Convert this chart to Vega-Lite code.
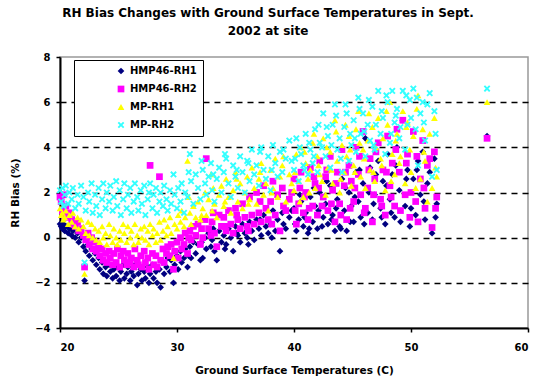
{
  "$schema": "https://vega.github.io/schema/vega-lite/v6.json",
  "width": 468,
  "height": 271,
  "autosize": {"type": "none"},
  "padding": {"left": 60, "top": 57, "right": 10, "bottom": 53},
  "background": "white",
  "title": {
    "text": ["RH Bias Changes with Ground Surface Temperatures in Sept.", "2002 at site"],
    "font": "DejaVu Sans",
    "fontSize": 12,
    "fontWeight": "bold",
    "color": "black",
    "anchor": "middle",
    "offset": 14,
    "lineHeight": 18,
    "dx": -26
  },
  "config": {
    "view": {"stroke": "#999999", "strokeWidth": 1.5},
    "axis": {
      "labelFont": "DejaVu Sans",
      "labelFontSize": 10,
      "labelFontWeight": "bold",
      "labelColor": "black",
      "titleFont": "DejaVu Sans",
      "titleFontSize": 10.5,
      "titleFontWeight": "bold",
      "titleColor": "black",
      "domainColor": "black",
      "domainWidth": 2,
      "tickColor": "black",
      "tickWidth": 1.5
    },
    "legend": {
      "orient": "none",
      "legendX": 14,
      "legendY": 3,
      "fillColor": "white",
      "strokeColor": "black",
      "padding": 6,
      "symbolOffset": 36,
      "rowPadding": 8,
      "labelFont": "DejaVu Sans",
      "labelFontSize": 10,
      "labelFontWeight": "bold",
      "labelColor": "black",
      "symbolSize": 45,
      "symbolStrokeWidth": 0
    }
  },
  "data": {
    "values": [
      {"temp": 20.0, "HMP46-RH1": 0.6, "HMP46-RH2": 1.8, "MP-RH1": 1.3, "MP-RH2": 2.1},
      {"temp": 20.1, "HMP46-RH1": 0.5, "HMP46-RH2": 1.6, "MP-RH1": 1.0, "MP-RH2": 1.6},
      {"temp": 20.2, "HMP46-RH1": 0.4, "HMP46-RH2": 1.2, "MP-RH1": 1.1, "MP-RH2": 2.2},
      {"temp": 20.3, "HMP46-RH1": 0.6, "HMP46-RH2": 1.9, "MP-RH1": 0.8, "MP-RH2": 1.4},
      {"temp": 20.4, "HMP46-RH1": 0.3, "HMP46-RH2": 1.0, "MP-RH1": 0.9, "MP-RH2": 1.9},
      {"temp": 20.5, "HMP46-RH1": 0.5, "HMP46-RH2": 1.4, "MP-RH1": 1.2, "MP-RH2": 2.3},
      {"temp": 20.7, "HMP46-RH1": 0.2, "HMP46-RH2": 0.9, "MP-RH1": 0.6, "MP-RH2": 1.5},
      {"temp": 20.8, "HMP46-RH1": 0.4, "HMP46-RH2": 1.1, "MP-RH1": 1.0, "MP-RH2": 2.0},
      {"temp": 21.0, "HMP46-RH1": 0.1, "HMP46-RH2": 0.8, "MP-RH1": 0.7, "MP-RH2": 1.7},
      {"temp": 21.1, "HMP46-RH1": 0.3, "HMP46-RH2": 0.6, "MP-RH1": 1.1, "MP-RH2": 2.2},
      {"temp": 21.3, "HMP46-RH1": 0.0, "HMP46-RH2": 0.5, "MP-RH1": 0.5, "MP-RH2": 1.3},
      {"temp": 21.5, "HMP46-RH1": 0.2, "HMP46-RH2": 0.7, "MP-RH1": 0.9, "MP-RH2": 1.9},
      {"temp": 21.6, "HMP46-RH1": -0.2, "HMP46-RH2": 0.3, "MP-RH1": 0.4, "MP-RH2": 1.5},
      {"temp": 21.8, "HMP46-RH1": 0.0, "HMP46-RH2": 0.4, "MP-RH1": 0.8, "MP-RH2": 2.3},
      {"temp": 22.0, "HMP46-RH1": -0.4, "HMP46-RH2": 0.1, "MP-RH1": 0.5, "MP-RH2": 1.8},
      {"temp": 22.1, "HMP46-RH1": -1.9, "HMP46-RH2": -1.3, "MP-RH1": -1.6, "MP-RH2": -1.1},
      {"temp": 22.2, "HMP46-RH1": -0.6, "HMP46-RH2": -0.1, "MP-RH1": 0.2, "MP-RH2": 1.2},
      {"temp": 22.4, "HMP46-RH1": -0.3, "HMP46-RH2": 0.2, "MP-RH1": 0.7, "MP-RH2": 2.0},
      {"temp": 22.5, "HMP46-RH1": -0.8, "HMP46-RH2": -0.3, "MP-RH1": 0.1, "MP-RH2": 1.6},
      {"temp": 22.7, "HMP46-RH1": -0.5, "HMP46-RH2": 0.0, "MP-RH1": 0.6, "MP-RH2": 2.4},
      {"temp": 22.8, "HMP46-RH1": -1.0, "HMP46-RH2": -0.5, "MP-RH1": 0.0, "MP-RH2": 1.1},
      {"temp": 23.0, "HMP46-RH1": -0.7, "HMP46-RH2": -0.2, "MP-RH1": 0.4, "MP-RH2": 1.9},
      {"temp": 23.1, "HMP46-RH1": -1.2, "HMP46-RH2": -0.6, "MP-RH1": -0.1, "MP-RH2": 1.4},
      {"temp": 23.3, "HMP46-RH1": -0.9, "HMP46-RH2": -0.4, "MP-RH1": 0.3, "MP-RH2": 2.2},
      {"temp": 23.4, "HMP46-RH1": -1.4, "HMP46-RH2": -0.8, "MP-RH1": -0.2, "MP-RH2": 1.0},
      {"temp": 23.6, "HMP46-RH1": -1.1, "HMP46-RH2": -0.5, "MP-RH1": 0.5, "MP-RH2": 1.7},
      {"temp": 23.7, "HMP46-RH1": -1.6, "HMP46-RH2": -1.0, "MP-RH1": 0.0, "MP-RH2": 2.4},
      {"temp": 23.9, "HMP46-RH1": -1.3, "HMP46-RH2": -0.7, "MP-RH1": 0.2, "MP-RH2": 1.3},
      {"temp": 24.0, "HMP46-RH1": -1.7, "HMP46-RH2": -1.1, "MP-RH1": -0.3, "MP-RH2": 2.0},
      {"temp": 24.2, "HMP46-RH1": -1.2, "HMP46-RH2": -0.6, "MP-RH1": 0.6, "MP-RH2": 1.6},
      {"temp": 24.3, "HMP46-RH1": -1.5, "HMP46-RH2": -0.9, "MP-RH1": 0.1, "MP-RH2": 2.3},
      {"temp": 24.5, "HMP46-RH1": -1.8, "HMP46-RH2": -1.2, "MP-RH1": -0.2, "MP-RH2": 1.2},
      {"temp": 24.6, "HMP46-RH1": -1.4, "HMP46-RH2": -0.7, "MP-RH1": 0.4, "MP-RH2": 1.8},
      {"temp": 24.8, "HMP46-RH1": -1.7, "HMP46-RH2": -1.1, "MP-RH1": 0.0, "MP-RH2": 2.5},
      {"temp": 24.9, "HMP46-RH1": -1.3, "HMP46-RH2": -0.5, "MP-RH1": -0.3, "MP-RH2": 1.4},
      {"temp": 25.1, "HMP46-RH1": -1.9, "HMP46-RH2": -1.3, "MP-RH1": 0.3, "MP-RH2": 2.1},
      {"temp": 25.2, "HMP46-RH1": -1.5, "HMP46-RH2": -0.8, "MP-RH1": -0.1, "MP-RH2": 1.0},
      {"temp": 25.4, "HMP46-RH1": -1.2, "HMP46-RH2": -0.6, "MP-RH1": 0.6, "MP-RH2": 1.7},
      {"temp": 25.5, "HMP46-RH1": -1.8, "HMP46-RH2": -1.0, "MP-RH1": 0.2, "MP-RH2": 2.4},
      {"temp": 25.7, "HMP46-RH1": -1.6, "HMP46-RH2": -1.2, "MP-RH1": -0.2, "MP-RH2": 1.3},
      {"temp": 25.8, "HMP46-RH1": -1.3, "HMP46-RH2": -0.7, "MP-RH1": 0.5, "MP-RH2": 1.9},
      {"temp": 26.0, "HMP46-RH1": -1.9, "HMP46-RH2": -1.1, "MP-RH1": 0.0, "MP-RH2": 2.2},
      {"temp": 26.1, "HMP46-RH1": -1.5, "HMP46-RH2": -0.9, "MP-RH1": 0.3, "MP-RH2": 1.1},
      {"temp": 26.3, "HMP46-RH1": -1.7, "HMP46-RH2": -1.3, "MP-RH1": -0.3, "MP-RH2": 1.6},
      {"temp": 26.4, "HMP46-RH1": -1.2, "HMP46-RH2": -0.5, "MP-RH1": 0.6, "MP-RH2": 2.4},
      {"temp": 26.6, "HMP46-RH1": -2.1, "HMP46-RH2": -1.0, "MP-RH1": 0.1, "MP-RH2": 1.8},
      {"temp": 26.7, "HMP46-RH1": -1.6, "HMP46-RH2": -1.2, "MP-RH1": -0.2, "MP-RH2": 1.2},
      {"temp": 26.9, "HMP46-RH1": -1.4, "HMP46-RH2": -0.8, "MP-RH1": 0.4, "MP-RH2": 2.1},
      {"temp": 27.0, "HMP46-RH1": -1.9, "HMP46-RH2": -1.3, "MP-RH1": 0.0, "MP-RH2": 1.5},
      {"temp": 27.2, "HMP46-RH1": -1.5, "HMP46-RH2": -0.6, "MP-RH1": 0.5, "MP-RH2": 2.3},
      {"temp": 27.3, "HMP46-RH1": -1.8, "HMP46-RH2": -1.1, "MP-RH1": -0.1, "MP-RH2": 1.0},
      {"temp": 27.5, "HMP46-RH1": -1.3, "HMP46-RH2": -0.9, "MP-RH1": 0.3, "MP-RH2": 1.7},
      {"temp": 27.6, "HMP46-RH1": -2.0, "HMP46-RH2": -1.4, "MP-RH1": -0.3, "MP-RH2": 2.0},
      {"temp": 27.7, "HMP46-RH1": -1.6, "HMP46-RH2": 3.2, "MP-RH1": 0.6, "MP-RH2": 2.4},
      {"temp": 27.9, "HMP46-RH1": -1.2, "HMP46-RH2": -0.7, "MP-RH1": 0.1, "MP-RH2": 1.3},
      {"temp": 28.0, "HMP46-RH1": -1.8, "HMP46-RH2": -1.2, "MP-RH1": 0.4, "MP-RH2": 1.9},
      {"temp": 28.2, "HMP46-RH1": -1.5, "HMP46-RH2": -0.8, "MP-RH1": -0.2, "MP-RH2": 2.2},
      {"temp": 28.3, "HMP46-RH1": -2.0, "HMP46-RH2": -1.3, "MP-RH1": 0.2, "MP-RH2": 1.1},
      {"temp": 28.5, "HMP46-RH1": -1.4, "HMP46-RH2": 2.7, "MP-RH1": 0.7, "MP-RH2": 1.6},
      {"temp": 28.6, "HMP46-RH1": -2.2, "HMP46-RH2": -1.0, "MP-RH1": -0.1, "MP-RH2": 2.0},
      {"temp": 28.8, "HMP46-RH1": -1.1, "HMP46-RH2": -0.5, "MP-RH1": 0.3, "MP-RH2": 1.4},
      {"temp": 28.9, "HMP46-RH1": -1.6, "HMP46-RH2": -1.1, "MP-RH1": 0.8, "MP-RH2": 2.3},
      {"temp": 29.1, "HMP46-RH1": -1.3, "HMP46-RH2": -0.7, "MP-RH1": 0.1, "MP-RH2": 1.7},
      {"temp": 29.2, "HMP46-RH1": -0.9, "HMP46-RH2": -0.4, "MP-RH1": 0.5, "MP-RH2": 1.2},
      {"temp": 29.4, "HMP46-RH1": -1.5, "HMP46-RH2": -0.8, "MP-RH1": 0.9, "MP-RH2": 2.1},
      {"temp": 29.5, "HMP46-RH1": -1.0, "HMP46-RH2": -0.3, "MP-RH1": 0.2, "MP-RH2": 1.5},
      {"temp": 29.7, "HMP46-RH1": -2.0, "HMP46-RH2": -1.4, "MP-RH1": -0.9, "MP-RH2": 2.8},
      {"temp": 29.8, "HMP46-RH1": -1.2, "HMP46-RH2": -0.6, "MP-RH1": 0.6, "MP-RH2": 1.9},
      {"temp": 30.0, "HMP46-RH1": -0.8, "HMP46-RH2": -0.2, "MP-RH1": 0.4, "MP-RH2": 1.3},
      {"temp": 30.1, "HMP46-RH1": -1.4, "HMP46-RH2": -0.9, "MP-RH1": 1.0, "MP-RH2": 2.2},
      {"temp": 30.3, "HMP46-RH1": -0.6, "HMP46-RH2": 0.0, "MP-RH1": 0.7, "MP-RH2": 1.6},
      {"temp": 30.4, "HMP46-RH1": -1.1, "HMP46-RH2": -0.5, "MP-RH1": 1.2, "MP-RH2": 2.4},
      {"temp": 30.6, "HMP46-RH1": -0.9, "HMP46-RH2": -0.3, "MP-RH1": 0.5, "MP-RH2": 1.1},
      {"temp": 30.7, "HMP46-RH1": -0.5, "HMP46-RH2": 0.2, "MP-RH1": 0.9, "MP-RH2": 2.0},
      {"temp": 30.9, "HMP46-RH1": -1.3, "HMP46-RH2": -0.7, "MP-RH1": 3.4, "MP-RH2": 1.8},
      {"temp": 31.0, "HMP46-RH1": -0.8, "HMP46-RH2": 0.0, "MP-RH1": 1.8, "MP-RH2": 2.9},
      {"temp": 31.1, "HMP46-RH1": -0.4, "HMP46-RH2": 0.3, "MP-RH1": 1.1, "MP-RH2": 3.7},
      {"temp": 31.2, "HMP46-RH1": -0.9, "HMP46-RH2": -0.1, "MP-RH1": 0.6, "MP-RH2": 2.5},
      {"temp": 31.4, "HMP46-RH1": -0.2, "HMP46-RH2": 0.5, "MP-RH1": 1.4, "MP-RH2": 1.5},
      {"temp": 31.6, "HMP46-RH1": -0.7, "HMP46-RH2": 0.1, "MP-RH1": 0.9, "MP-RH2": 2.8},
      {"temp": 31.8, "HMP46-RH1": -0.3, "HMP46-RH2": 0.6, "MP-RH1": 1.6, "MP-RH2": 2.2},
      {"temp": 32.0, "HMP46-RH1": -1.0, "HMP46-RH2": -0.3, "MP-RH1": 0.8, "MP-RH2": 1.7},
      {"temp": 32.1, "HMP46-RH1": -0.2, "HMP46-RH2": 0.4, "MP-RH1": 1.0, "MP-RH2": 3.4},
      {"temp": 32.2, "HMP46-RH1": -0.9, "HMP46-RH2": 0.0, "MP-RH1": 1.3, "MP-RH2": 3.0},
      {"temp": 32.4, "HMP46-RH1": 0.0, "HMP46-RH2": 0.8, "MP-RH1": 2.0, "MP-RH2": 2.4},
      {"temp": 32.5, "HMP46-RH1": -0.5, "HMP46-RH2": 3.5, "MP-RH1": 1.0, "MP-RH2": 1.9},
      {"temp": 32.7, "HMP46-RH1": 0.2, "HMP46-RH2": 0.4, "MP-RH1": 1.7, "MP-RH2": 2.7},
      {"temp": 32.9, "HMP46-RH1": -0.4, "HMP46-RH2": 0.1, "MP-RH1": 2.8, "MP-RH2": 3.3},
      {"temp": 33.0, "HMP46-RH1": -0.1, "HMP46-RH2": 0.7, "MP-RH1": 1.2, "MP-RH2": 2.1},
      {"temp": 33.1, "HMP46-RH1": 0.4, "HMP46-RH2": 1.1, "MP-RH1": 2.2, "MP-RH2": 2.8},
      {"temp": 33.2, "HMP46-RH1": -0.6, "HMP46-RH2": 0.2, "MP-RH1": 1.5, "MP-RH2": 1.6},
      {"temp": 33.4, "HMP46-RH1": -1.0, "HMP46-RH2": -0.4, "MP-RH1": 0.9, "MP-RH2": 2.6},
      {"temp": 33.6, "HMP46-RH1": 0.3, "HMP46-RH2": 1.0, "MP-RH1": 1.9, "MP-RH2": 3.1},
      {"temp": 33.8, "HMP46-RH1": -0.2, "HMP46-RH2": 0.5, "MP-RH1": 2.3, "MP-RH2": 2.0},
      {"temp": 34.0, "HMP46-RH1": 0.1, "HMP46-RH2": 0.9, "MP-RH1": 1.4, "MP-RH2": 2.9},
      {"temp": 34.1, "HMP46-RH1": -0.5, "HMP46-RH2": 0.5, "MP-RH1": 1.6, "MP-RH2": 3.7},
      {"temp": 34.2, "HMP46-RH1": -0.3, "HMP46-RH2": 0.3, "MP-RH1": 2.6, "MP-RH2": 3.5},
      {"temp": 34.4, "HMP46-RH1": 0.4, "HMP46-RH2": 1.2, "MP-RH1": 1.8, "MP-RH2": 2.4},
      {"temp": 34.6, "HMP46-RH1": 0.0, "HMP46-RH2": 0.6, "MP-RH1": 1.1, "MP-RH2": 1.8},
      {"temp": 34.8, "HMP46-RH1": -0.6, "HMP46-RH2": 0.2, "MP-RH1": 2.1, "MP-RH2": 3.2},
      {"temp": 35.0, "HMP46-RH1": 0.5, "HMP46-RH2": 1.3, "MP-RH1": 2.9, "MP-RH2": 2.7},
      {"temp": 35.1, "HMP46-RH1": 0.2, "HMP46-RH2": 1.0, "MP-RH1": 2.6, "MP-RH2": 3.0},
      {"temp": 35.2, "HMP46-RH1": 0.1, "HMP46-RH2": 0.8, "MP-RH1": 1.6, "MP-RH2": 2.2},
      {"temp": 35.4, "HMP46-RH1": -0.2, "HMP46-RH2": 0.4, "MP-RH1": 2.4, "MP-RH2": 3.6},
      {"temp": 35.6, "HMP46-RH1": 0.6, "HMP46-RH2": 1.5, "MP-RH1": 1.3, "MP-RH2": 2.9},
      {"temp": 35.8, "HMP46-RH1": 0.2, "HMP46-RH2": 0.9, "MP-RH1": 2.0, "MP-RH2": 2.0},
      {"temp": 36.0, "HMP46-RH1": 0.0, "HMP46-RH2": 0.5, "MP-RH1": 2.7, "MP-RH2": 3.4},
      {"temp": 36.1, "HMP46-RH1": -0.3, "HMP46-RH2": 0.3, "MP-RH1": 1.5, "MP-RH2": 3.3},
      {"temp": 36.2, "HMP46-RH1": 0.7, "HMP46-RH2": 1.8, "MP-RH1": 1.7, "MP-RH2": 2.5},
      {"temp": 36.4, "HMP46-RH1": 0.3, "HMP46-RH2": 1.0, "MP-RH1": 3.1, "MP-RH2": 3.9},
      {"temp": 36.6, "HMP46-RH1": -0.1, "HMP46-RH2": 0.6, "MP-RH1": 2.2, "MP-RH2": 2.8},
      {"temp": 36.8, "HMP46-RH1": 0.8, "HMP46-RH2": 2.0, "MP-RH1": 1.5, "MP-RH2": 3.2},
      {"temp": 37.0, "HMP46-RH1": 0.4, "HMP46-RH2": 1.1, "MP-RH1": 2.6, "MP-RH2": 2.3},
      {"temp": 37.1, "HMP46-RH1": 0.8, "HMP46-RH2": 1.6, "MP-RH1": 2.9, "MP-RH2": 3.8},
      {"temp": 37.2, "HMP46-RH1": 0.1, "HMP46-RH2": 0.7, "MP-RH1": 3.3, "MP-RH2": 4.0},
      {"temp": 37.4, "HMP46-RH1": 1.0, "HMP46-RH2": 2.3, "MP-RH1": 1.9, "MP-RH2": 3.0},
      {"temp": 37.6, "HMP46-RH1": 0.5, "HMP46-RH2": 1.3, "MP-RH1": 2.4, "MP-RH2": 2.6},
      {"temp": 37.8, "HMP46-RH1": 0.2, "HMP46-RH2": 0.8, "MP-RH1": 1.2, "MP-RH2": 3.6},
      {"temp": 38.0, "HMP46-RH1": 0.6, "HMP46-RH2": 1.6, "MP-RH1": 3.0, "MP-RH2": 2.1},
      {"temp": 38.1, "HMP46-RH1": 0.0, "HMP46-RH2": 0.6, "MP-RH1": 2.0, "MP-RH2": 3.0},
      {"temp": 38.2, "HMP46-RH1": 1.2, "HMP46-RH2": 2.5, "MP-RH1": 2.2, "MP-RH2": 4.1},
      {"temp": 38.4, "HMP46-RH1": 0.3, "HMP46-RH2": 1.0, "MP-RH1": 3.5, "MP-RH2": 3.3},
      {"temp": 38.6, "HMP46-RH1": 0.8, "HMP46-RH2": 1.9, "MP-RH1": 1.8, "MP-RH2": 2.7},
      {"temp": 38.8, "HMP46-RH1": -0.6, "HMP46-RH2": 0.3, "MP-RH1": 2.7, "MP-RH2": 3.8},
      {"temp": 39.0, "HMP46-RH1": 1.1, "HMP46-RH2": 2.2, "MP-RH1": 3.2, "MP-RH2": 2.9},
      {"temp": 39.1, "HMP46-RH1": 0.6, "HMP46-RH2": 1.4, "MP-RH1": 3.6, "MP-RH2": 3.9},
      {"temp": 39.3, "HMP46-RH1": 0.4, "HMP46-RH2": 1.2, "MP-RH1": 1.6, "MP-RH2": 3.5},
      {"temp": 39.6, "HMP46-RH1": 0.9, "HMP46-RH2": 1.7, "MP-RH1": 2.8, "MP-RH2": 4.3},
      {"temp": 39.8, "HMP46-RH1": 1.2, "HMP46-RH2": 2.0, "MP-RH1": 2.4, "MP-RH2": 3.4},
      {"temp": 40.0, "HMP46-RH1": 1.3, "HMP46-RH2": 2.6, "MP-RH1": 2.1, "MP-RH2": 3.0},
      {"temp": 40.1, "HMP46-RH1": 0.6, "HMP46-RH2": 1.2, "MP-RH1": 2.9, "MP-RH2": 3.5},
      {"temp": 40.2, "HMP46-RH1": 0.3, "HMP46-RH2": 0.6, "MP-RH1": 3.7, "MP-RH2": 4.4},
      {"temp": 40.4, "HMP46-RH1": 0.8, "HMP46-RH2": 1.5, "MP-RH1": 2.5, "MP-RH2": 2.5},
      {"temp": 40.5, "HMP46-RH1": 1.9, "HMP46-RH2": 2.2, "MP-RH1": 1.6, "MP-RH2": 4.0},
      {"temp": 40.6, "HMP46-RH1": 1.6, "HMP46-RH2": 2.9, "MP-RH1": 4.0, "MP-RH2": 3.7},
      {"temp": 40.8, "HMP46-RH1": 0.5, "HMP46-RH2": 1.1, "MP-RH1": 1.8, "MP-RH2": 3.2},
      {"temp": 40.9, "HMP46-RH1": 0.9, "HMP46-RH2": 1.8, "MP-RH1": 3.8, "MP-RH2": 3.0},
      {"temp": 41.0, "HMP46-RH1": 1.1, "HMP46-RH2": 2.0, "MP-RH1": 3.3, "MP-RH2": 4.6},
      {"temp": 41.2, "HMP46-RH1": 0.2, "HMP46-RH2": 0.8, "MP-RH1": 2.6, "MP-RH2": 2.8},
      {"temp": 41.3, "HMP46-RH1": 0.4, "HMP46-RH2": 1.3, "MP-RH1": 2.0, "MP-RH2": 4.2},
      {"temp": 41.4, "HMP46-RH1": 1.8, "HMP46-RH2": 3.1, "MP-RH1": 3.0, "MP-RH2": 3.9},
      {"temp": 41.6, "HMP46-RH1": 0.7, "HMP46-RH2": 1.4, "MP-RH1": 4.2, "MP-RH2": 3.3},
      {"temp": 41.7, "HMP46-RH1": 2.2, "HMP46-RH2": 2.7, "MP-RH1": 4.6, "MP-RH2": 3.6},
      {"temp": 41.8, "HMP46-RH1": 1.4, "HMP46-RH2": 2.4, "MP-RH1": 2.2, "MP-RH2": 4.8},
      {"temp": 42.0, "HMP46-RH1": 0.4, "HMP46-RH2": 1.0, "MP-RH1": 3.6, "MP-RH2": 2.9},
      {"temp": 42.1, "HMP46-RH1": 1.2, "HMP46-RH2": 2.2, "MP-RH1": 3.2, "MP-RH2": 5.0},
      {"temp": 42.2, "HMP46-RH1": 2.0, "HMP46-RH2": 3.4, "MP-RH1": 2.8, "MP-RH2": 4.2},
      {"temp": 42.4, "HMP46-RH1": 0.5, "HMP46-RH2": 1.4, "MP-RH1": 2.5, "MP-RH2": 4.0},
      {"temp": 42.5, "HMP46-RH1": 0.9, "HMP46-RH2": 1.8, "MP-RH1": 4.4, "MP-RH2": 5.5},
      {"temp": 42.7, "HMP46-RH1": 1.5, "HMP46-RH2": 2.7, "MP-RH1": 1.9, "MP-RH2": 3.6},
      {"temp": 42.8, "HMP46-RH1": 2.5, "HMP46-RH2": 3.0, "MP-RH1": 4.0, "MP-RH2": 4.9},
      {"temp": 42.9, "HMP46-RH1": 0.6, "HMP46-RH2": 1.2, "MP-RH1": 3.1, "MP-RH2": 4.5},
      {"temp": 43.1, "HMP46-RH1": 2.3, "HMP46-RH2": 3.6, "MP-RH1": 3.8, "MP-RH2": 3.1},
      {"temp": 43.2, "HMP46-RH1": 0.8, "HMP46-RH2": 1.5, "MP-RH1": 3.0, "MP-RH2": 4.1},
      {"temp": 43.3, "HMP46-RH1": 1.0, "HMP46-RH2": 2.1, "MP-RH1": 2.4, "MP-RH2": 5.0},
      {"temp": 43.5, "HMP46-RH1": 0.3, "HMP46-RH2": 0.7, "MP-RH1": 5.2, "MP-RH2": 5.9},
      {"temp": 43.6, "HMP46-RH1": 1.3, "HMP46-RH2": 2.4, "MP-RH1": 4.7, "MP-RH2": 5.4},
      {"temp": 43.7, "HMP46-RH1": 1.7, "HMP46-RH2": 2.9, "MP-RH1": 3.4, "MP-RH2": 3.9},
      {"temp": 43.9, "HMP46-RH1": 0.5, "HMP46-RH2": 1.5, "MP-RH1": 2.0, "MP-RH2": 4.4},
      {"temp": 44.0, "HMP46-RH1": 0.4, "HMP46-RH2": 1.0, "MP-RH1": 2.6, "MP-RH2": 3.5},
      {"temp": 44.1, "HMP46-RH1": 2.6, "HMP46-RH2": 3.9, "MP-RH1": 4.1, "MP-RH2": 2.9},
      {"temp": 44.3, "HMP46-RH1": 1.2, "HMP46-RH2": 2.3, "MP-RH1": 2.9, "MP-RH2": 4.9},
      {"temp": 44.4, "HMP46-RH1": 2.2, "HMP46-RH2": 2.9, "MP-RH1": 5.0, "MP-RH2": 5.9},
      {"temp": 44.5, "HMP46-RH1": 0.3, "HMP46-RH2": 0.8, "MP-RH1": 3.6, "MP-RH2": 5.5},
      {"temp": 44.7, "HMP46-RH1": 2.0, "HMP46-RH2": 3.2, "MP-RH1": 4.5, "MP-RH2": 3.4},
      {"temp": 44.8, "HMP46-RH1": 0.7, "HMP46-RH2": 1.3, "MP-RH1": 3.9, "MP-RH2": 4.6},
      {"temp": 44.9, "HMP46-RH1": 1.4, "HMP46-RH2": 2.5, "MP-RH1": 2.3, "MP-RH2": 4.1},
      {"temp": 45.1, "HMP46-RH1": 0.7, "HMP46-RH2": 1.6, "MP-RH1": 3.2, "MP-RH2": 5.2},
      {"temp": 45.2, "HMP46-RH1": 1.8, "HMP46-RH2": 2.2, "MP-RH1": 2.9, "MP-RH2": 4.4},
      {"temp": 45.3, "HMP46-RH1": 2.9, "HMP46-RH2": 4.0, "MP-RH1": 4.8, "MP-RH2": 3.8},
      {"temp": 45.5, "HMP46-RH1": 1.6, "HMP46-RH2": 2.8, "MP-RH1": 5.6, "MP-RH2": 6.2},
      {"temp": 45.6, "HMP46-RH1": 3.0, "HMP46-RH2": 3.6, "MP-RH1": 4.2, "MP-RH2": 5.7},
      {"temp": 45.7, "HMP46-RH1": 0.9, "HMP46-RH2": 1.9, "MP-RH1": 2.7, "MP-RH2": 4.6},
      {"temp": 45.9, "HMP46-RH1": 2.4, "HMP46-RH2": 4.7, "MP-RH1": 3.9, "MP-RH2": 5.5},
      {"temp": 46.0, "HMP46-RH1": 0.6, "HMP46-RH2": 1.1, "MP-RH1": 3.5, "MP-RH2": 4.7},
      {"temp": 46.1, "HMP46-RH1": 4.4, "HMP46-RH2": 1.3, "MP-RH1": 2.2, "MP-RH2": 3.6},
      {"temp": 46.3, "HMP46-RH1": 1.1, "HMP46-RH2": 2.2, "MP-RH1": 4.3, "MP-RH2": 5.0},
      {"temp": 46.4, "HMP46-RH1": 2.0, "HMP46-RH2": 3.0, "MP-RH1": 5.5, "MP-RH2": 6.1},
      {"temp": 46.5, "HMP46-RH1": 3.1, "HMP46-RH2": 3.5, "MP-RH1": 3.0, "MP-RH2": 4.3},
      {"temp": 46.7, "HMP46-RH1": 0.8, "HMP46-RH2": 0.7, "MP-RH1": 4.9, "MP-RH2": 5.8},
      {"temp": 46.8, "HMP46-RH1": 1.5, "HMP46-RH2": 1.9, "MP-RH1": 2.9, "MP-RH2": 4.1},
      {"temp": 46.9, "HMP46-RH1": 1.9, "HMP46-RH2": 2.6, "MP-RH1": 2.5, "MP-RH2": 3.9},
      {"temp": 47.0, "HMP46-RH1": 2.8, "HMP46-RH2": 3.8, "MP-RH1": 4.0, "MP-RH2": 5.0},
      {"temp": 47.2, "HMP46-RH1": 3.4, "HMP46-RH2": 4.2, "MP-RH1": 5.3, "MP-RH2": 6.5},
      {"temp": 47.4, "HMP46-RH1": 1.3, "HMP46-RH2": 1.7, "MP-RH1": 3.5, "MP-RH2": 4.6},
      {"temp": 47.5, "HMP46-RH1": 0.9, "HMP46-RH2": 1.4, "MP-RH1": 3.2, "MP-RH2": 5.6},
      {"temp": 47.6, "HMP46-RH1": 2.5, "HMP46-RH2": 3.0, "MP-RH1": 4.4, "MP-RH2": 5.3},
      {"temp": 47.8, "HMP46-RH1": 0.6, "HMP46-RH2": 1.0, "MP-RH1": 2.1, "MP-RH2": 3.7},
      {"temp": 47.9, "HMP46-RH1": 2.3, "HMP46-RH2": 2.9, "MP-RH1": 5.6, "MP-RH2": 6.3},
      {"temp": 48.0, "HMP46-RH1": 3.7, "HMP46-RH2": 4.5, "MP-RH1": 5.0, "MP-RH2": 6.0},
      {"temp": 48.2, "HMP46-RH1": 1.7, "HMP46-RH2": 2.3, "MP-RH1": 6.0, "MP-RH2": 4.2},
      {"temp": 48.3, "HMP46-RH1": 1.1, "HMP46-RH2": 1.8, "MP-RH1": 2.5, "MP-RH2": 4.6},
      {"temp": 48.4, "HMP46-RH1": 2.8, "HMP46-RH2": 3.3, "MP-RH1": 3.7, "MP-RH2": 6.5},
      {"temp": 48.6, "HMP46-RH1": 0.9, "HMP46-RH2": 1.4, "MP-RH1": 2.8, "MP-RH2": 5.1},
      {"temp": 48.7, "HMP46-RH1": 3.2, "HMP46-RH2": 3.9, "MP-RH1": 4.3, "MP-RH2": 5.4},
      {"temp": 48.8, "HMP46-RH1": 4.0, "HMP46-RH2": 4.8, "MP-RH1": 4.6, "MP-RH2": 5.7},
      {"temp": 49.0, "HMP46-RH1": 2.1, "HMP46-RH2": 2.9, "MP-RH1": 3.3, "MP-RH2": 4.4},
      {"temp": 49.1, "HMP46-RH1": 0.7, "HMP46-RH2": 1.2, "MP-RH1": 3.6, "MP-RH2": 4.9},
      {"temp": 49.3, "HMP46-RH1": 5.2, "HMP46-RH2": 5.2, "MP-RH1": 5.6, "MP-RH2": 6.5},
      {"temp": 49.5, "HMP46-RH1": 1.4, "HMP46-RH2": 1.9, "MP-RH1": 2.4, "MP-RH2": 3.9},
      {"temp": 49.6, "HMP46-RH1": 2.6, "HMP46-RH2": 3.3, "MP-RH1": 4.9, "MP-RH2": 6.3},
      {"temp": 49.7, "HMP46-RH1": 3.0, "HMP46-RH2": 3.7, "MP-RH1": 5.1, "MP-RH2": 5.0},
      {"temp": 49.9, "HMP46-RH1": 0.5, "HMP46-RH2": 0.9, "MP-RH1": 3.9, "MP-RH2": 6.1},
      {"temp": 50.0, "HMP46-RH1": 1.3, "HMP46-RH2": 2.0, "MP-RH1": 2.9, "MP-RH2": 5.3},
      {"temp": 50.2, "HMP46-RH1": 2.6, "HMP46-RH2": 4.7, "MP-RH1": 4.5, "MP-RH2": 6.6},
      {"temp": 50.4, "HMP46-RH1": 1.0, "HMP46-RH2": 1.6, "MP-RH1": 2.2, "MP-RH2": 4.8},
      {"temp": 50.5, "HMP46-RH1": 3.0, "HMP46-RH2": 3.6, "MP-RH1": 5.7, "MP-RH2": 6.2},
      {"temp": 50.6, "HMP46-RH1": 3.4, "HMP46-RH2": 0.7, "MP-RH1": 6.3, "MP-RH2": 3.2},
      {"temp": 50.8, "HMP46-RH1": 1.9, "HMP46-RH2": 2.6, "MP-RH1": 2.6, "MP-RH2": 5.5},
      {"temp": 51.0, "HMP46-RH1": 3.8, "HMP46-RH2": 4.3, "MP-RH1": 4.8, "MP-RH2": 6.0},
      {"temp": 51.1, "HMP46-RH1": 1.6, "HMP46-RH2": 2.2, "MP-RH1": 3.8, "MP-RH2": 5.1},
      {"temp": 51.2, "HMP46-RH1": 0.8, "HMP46-RH2": 1.3, "MP-RH1": 3.4, "MP-RH2": 4.3},
      {"temp": 51.4, "HMP46-RH1": 2.4, "HMP46-RH2": 3.2, "MP-RH1": 1.6, "MP-RH2": 5.9},
      {"temp": 51.6, "HMP46-RH1": 2.9, "HMP46-RH2": 3.5, "MP-RH1": 4.6, "MP-RH2": 6.4},
      {"temp": 51.8, "HMP46-RH1": 0.2, "HMP46-RH2": 0.45, "MP-RH1": 2.2, "MP-RH2": 2.7},
      {"temp": 52.0, "HMP46-RH1": 3.5, "HMP46-RH2": 3.8, "MP-RH1": 5.3, "MP-RH2": 5.6},
      {"temp": 52.1, "HMP46-RH1": 0.9, "HMP46-RH2": 1.3, "MP-RH1": 3.1, "MP-RH2": 4.6},
      {"temp": 52.2, "HMP46-RH1": 1.5, "HMP46-RH2": 1.8, "MP-RH1": 2.7, "MP-RH2": 3.0},
      {"temp": 56.5, "HMP46-RH1": 4.5, "HMP46-RH2": 4.4, "MP-RH1": 6.0, "MP-RH2": 6.6}
    ]
  },
  "transform": [
    {"fold": ["HMP46-RH1", "HMP46-RH2", "MP-RH1", "MP-RH2"], "as": ["sensor", "bias"]}
  ],
  "mark": {"type": "point", "filled": true, "size": 45, "opacity": 1},
  "encoding": {
    "x": {
      "field": "temp",
      "type": "quantitative",
      "title": "Ground Surface Temperatures (C)",
      "scale": {"domain": [20, 60], "nice": false},
      "axis": {"values": [20, 30, 40, 50, 60], "grid": false, "tickSize": 4, "labelPadding": 10, "titlePadding": 13}
    },
    "y": {
      "field": "bias",
      "type": "quantitative",
      "title": "RH Bias (%)",
      "scale": {"domain": [-4, 8], "nice": false},
      "axis": {
        "values": [-4, -2, 0, 2, 4, 6, 8],
        "grid": true,
        "gridColor": "black",
        "gridDash": [6, 5],
        "gridWidth": 1.5,
        "gridOpacity": {"condition": {"test": "datum.value == 8 || datum.value == -4", "value": 0}, "value": 1},
        "tickSize": 4,
        "labelPadding": 6,
        "titlePadding": 14
      }
    },
    "order": {"field": "sensor", "type": "ordinal"},
    "color": {
      "field": "sensor",
      "type": "nominal",
      "scale": {
        "domain": ["HMP46-RH1", "HMP46-RH2", "MP-RH1", "MP-RH2"],
        "range": ["#000080", "#FF00FF", "#FFFF00", "#33FFFF"]
      },
      "legend": {"title": null}
    },
    "shape": {
      "field": "sensor",
      "type": "nominal",
      "scale": {
        "domain": ["HMP46-RH1", "HMP46-RH2", "MP-RH1", "MP-RH2"],
        "range": ["diamond", "square", "triangle-up", "M-1,-0.6L-0.6,-1L0,-0.4L0.6,-1L1,-0.6L0.4,0L1,0.6L0.6,1L0,0.4L-0.6,1L-1,0.6L-0.4,0Z"]
      },
      "legend": {"title": null}
    }
  }
}
